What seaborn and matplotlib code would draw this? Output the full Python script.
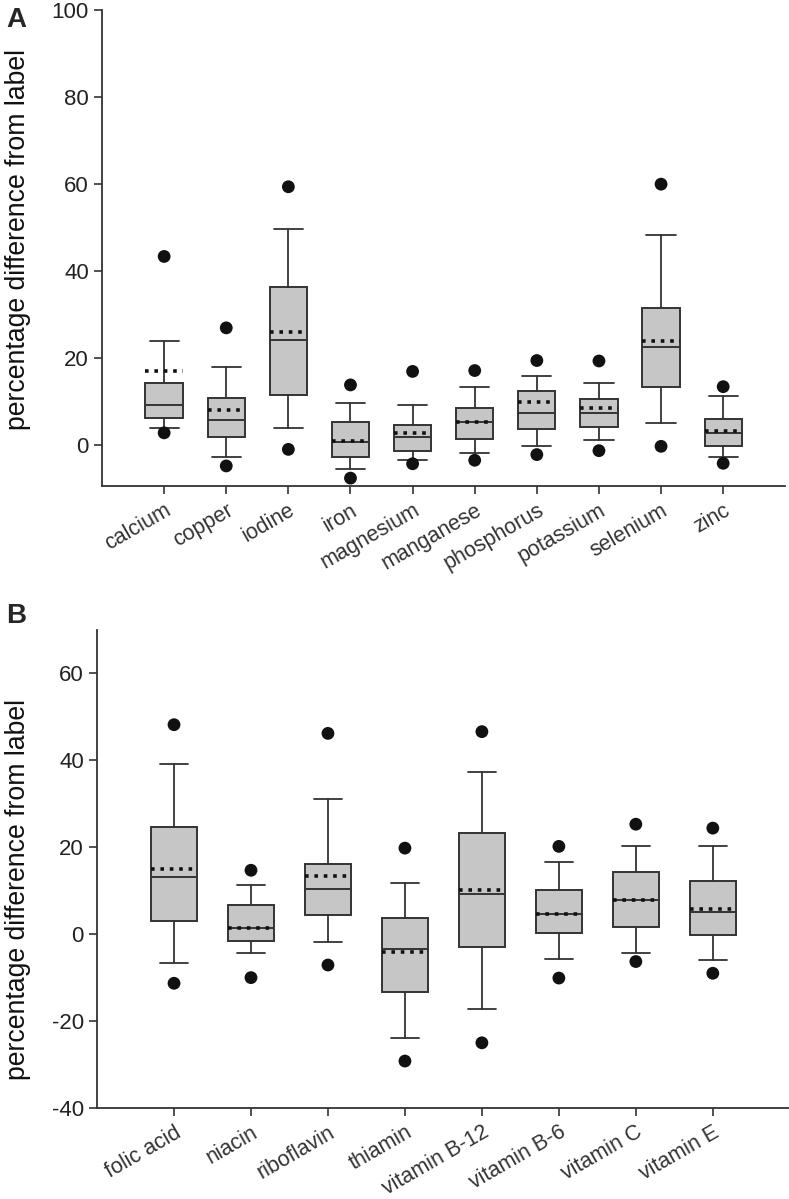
import numpy as np
import pandas as pd
import matplotlib
matplotlib.use("Agg")
import matplotlib.pyplot as plt
import seaborn as sns

# panel A - minerals
minerals = ["calcium", "copper", "iodine", "iron", "magnesium", "manganese",
            "phosphorus", "potassium", "selenium", "zinc"]
min_p5 = [2.9, -4.7, -0.9, -7.5, -4.2, -3.4, -2.1, -1.2, -0.2, -4.1]
min_p10 = [4.1, -2.6, 4.0, -5.5, -3.4, -1.8, -0.2, 1.3, 5.1, -2.7]
min_q1 = [6.3, 1.9, 11.6, -2.7, -1.3, 1.5, 3.8, 4.2, 13.5, -0.1]
min_med = [9.4, 5.8, 24.2, 0.8, 2.0, 5.4, 7.5, 7.4, 22.5, 2.8]
min_q3 = [14.3, 11.0, 36.3, 5.5, 4.6, 8.5, 12.4, 10.7, 31.6, 6.1]
min_p90 = [23.9, 18.0, 49.6, 9.7, 9.2, 13.5, 16.0, 14.3, 48.4, 11.4]
min_p95 = [43.4, 27.0, 59.4, 13.9, 17.0, 17.2, 19.5, 19.4, 60.0, 13.5]
min_mean = [17.2, 8.2, 26.1, 1.1, 2.8, 5.4, 10.0, 8.7, 24.0, 3.4]

# panel B - vitamins
vitamins = ["folic acid", "niacin", "riboflavin", "thiamin", "vitamin B-12",
            "vitamin B-6", "vitamin C", "vitamin E"]
vit_p5 = [-11.3, -10.0, -7.1, -29.2, -25.0, -10.1, -6.3, -9.0]
vit_p10 = [-6.7, -4.4, -1.8, -23.8, -17.3, -5.8, -4.3, -6.0]
vit_q1 = [3.1, -1.6, 4.3, -13.4, -3.0, 0.2, 1.7, -0.2]
vit_med = [13.1, 1.5, 10.4, -3.5, 9.2, 4.7, 7.9, 5.1]
vit_q3 = [24.7, 6.6, 16.2, 3.7, 23.2, 10.2, 14.4, 12.3]
vit_p90 = [39.1, 11.2, 31.1, 11.8, 37.4, 16.5, 20.2, 20.3]
vit_p95 = [48.2, 14.7, 46.2, 19.8, 46.6, 20.2, 25.3, 24.4]
vit_mean = [14.9, 1.5, 13.3, -4.1, 10.1, 4.7, 7.9, 5.9]

sns.set_style("ticks")
plt.rcParams['font.family'] = ['Liberation Sans', 'DejaVu Sans']
plt.rcParams['axes.unicode_minus'] = False

edge = "#333333"


def draw_panel(ax, names, p5, p10, q1, med, q3, p90, p95, mean, capw):
    stats = []
    for i, n in enumerate(names):
        stats.append(dict(label=n, whislo=p10[i], q1=q1[i], med=med[i],
                          q3=q3[i], whishi=p90[i], mean=mean[i], fliers=[]))
    ax.bxp(stats, positions=np.arange(len(names)), widths=0.6,
           capwidths=capw, patch_artist=True, showmeans=True, meanline=True,
           boxprops=dict(facecolor="#c6c6c6", edgecolor=edge, linewidth=1.4),
           medianprops=dict(color=edge, linewidth=1.4),
           whiskerprops=dict(color=edge, linewidth=1.3),
           capprops=dict(color=edge, linewidth=1.3),
           meanprops=dict(color="#111111", linestyle=(0, (1, 1.6)), linewidth=2.6))
    pts = pd.DataFrame({"x": list(range(len(names))) * 2,
                        "y": list(p5) + list(p95)})
    sns.scatterplot(data=pts, x="x", y="y", ax=ax, color="#111111", s=85,
                    edgecolor="none", zorder=5, legend=False)
    ax.set_xticks(np.arange(len(names)))
    ax.set_xticklabels(names, rotation=30, ha="right", rotation_mode="anchor",
                       fontsize=15.5, color="#222222")
    ax.set_xlim(-1, len(names))
    ax.set_xlabel("")
    ax.set_ylabel("percentage difference from label", fontsize=19.2,
                  color="#111111")
    ax.tick_params(axis="y", labelsize=16, colors=edge, labelcolor="#222222",
                   length=6, width=1.2)
    ax.tick_params(axis="x", colors=edge, length=6, width=1.2, pad=4)
    for s in ["left", "bottom"]:
        ax.spines[s].set_color(edge)
        ax.spines[s].set_linewidth(1.3)
    sns.despine(ax=ax)


fig = plt.figure(figsize=(7.89, 11.99), dpi=100)
axA = fig.add_axes([0.1293, 0.5947, 0.866, 0.397])
axB = fig.add_axes([0.1230, 0.0759, 0.878, 0.3987])

draw_panel(axA, minerals, min_p5, min_p10, min_q1, min_med, min_q3,
           min_p90, min_p95, min_mean, 0.47)
axA.set_ylim(-9.3, 100)
axA.set_yticks([0, 20, 40, 60, 80, 100])
axA.yaxis.set_label_coords(-0.104, 0.518)

draw_panel(axB, vitamins, vit_p5, vit_p10, vit_q1, vit_med, vit_q3,
           vit_p90, vit_p95, vit_mean, 0.36)
axB.set_ylim(-40, 70)
axB.set_yticks([-40, -20, 0, 20, 40, 60])
axB.yaxis.set_label_coords(-0.096, 0.458)

fig.text(0.008, 0.994, "A", fontsize=20, fontweight="bold", va="top")
fig.text(0.008, 0.497, "B", fontsize=20, fontweight="bold", va="top")

fig.savefig("out.png", dpi=100)
